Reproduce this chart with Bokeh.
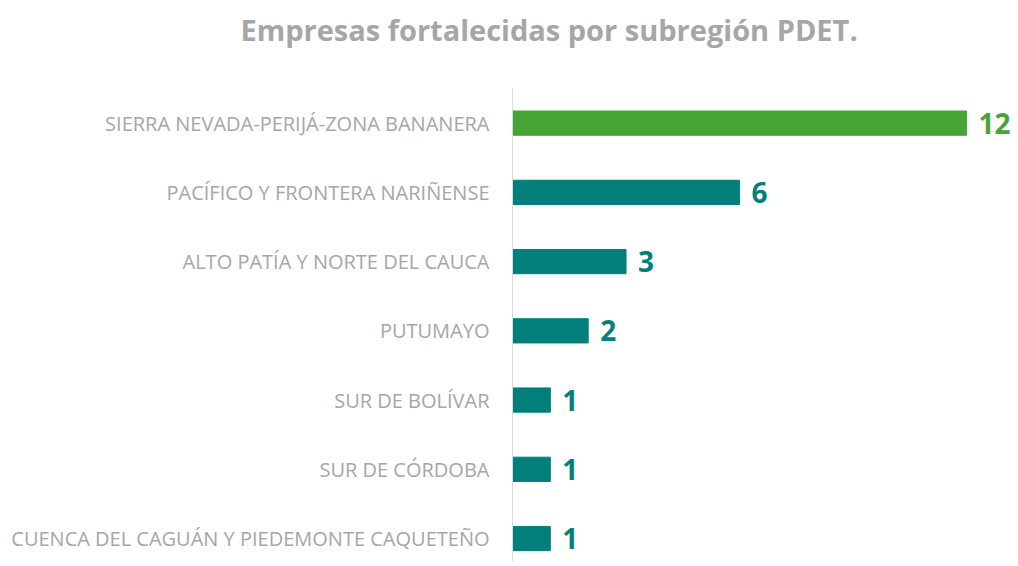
from bokeh.plotting import figure
from bokeh.models import Range1d, FixedTicker, ColumnDataSource, Title
from bokeh.core.properties import value
from bokeh.embed import file_html
from bokeh.resources import INLINE

categories = [
    "SIERRA NEVADA-PERIJÁ-ZONA BANANERA",
    "PACÍFICO Y FRONTERA NARIÑENSE",
    "ALTO PATÍA Y NORTE DEL CAUCA",
    "PUTUMAYO",
    "SUR DE BOLÍVAR",
    "SUR DE CÓRDOBA",
    "CUENCA DEL CAGUÁN Y PIEDEMONTE CAQUETEÑO",
]
values = [12, 6, 3, 2, 1, 1, 1]
colors = ["#46A535", "#037F7B", "#037F7B", "#037F7B", "#037F7B", "#037F7B", "#037F7B"]
title_text = "Empresas fortalecidas por subregión PDET."

pos = list(range(len(categories)))
src = ColumnDataSource(dict(y=pos, v=values, c=colors, t=[str(v) for v in values]))

p = figure(width=1010, height=562, output_backend="svg", toolbar_location=None,
           x_range=Range1d(0, 13.16), y_range=Range1d(6.346, -0.5),
           min_border_left=512, min_border_right=0, min_border_top=88, min_border_bottom=0)

p.hbar(y="y", right="v", left=0, height=0.35, color="c", source=src)
p.text(x="v", y="y", text="t", text_color="c", source=src, x_offset=12,
       text_baseline="middle", text_align="left", text_font=value("Open Sans"),
       text_font_size="28px", text_font_style="bold")

p.xaxis.visible = False
p.grid.visible = False
p.outline_line_color = None

ya = p.yaxis[0]
ya.ticker = FixedTicker(ticks=pos)
ya.major_label_overrides = {i: c for i, c in enumerate(categories)}
ya.major_tick_line_color = None
ya.minor_tick_line_color = None
ya.axis_line_color = "#D9D9D9"
ya.axis_line_width = 1
ya.major_label_standoff = 17
ya.major_label_text_color = "#A6A6A6"
ya.major_label_text_font = "Open Sans"
ya.major_label_text_font_size = "20px"

p.title = Title(text=title_text, align="left", offset=-272, standoff=0,
                text_font="Open Sans", text_font_size="29px", text_font_style="bold",
                text_color="#A6A6A6")
spacer = Title(text=" ", text_font_size="34px", standoff=0)
p.add_layout(spacer, "above")

open("out.html", "w").write(file_html(p, INLINE))
